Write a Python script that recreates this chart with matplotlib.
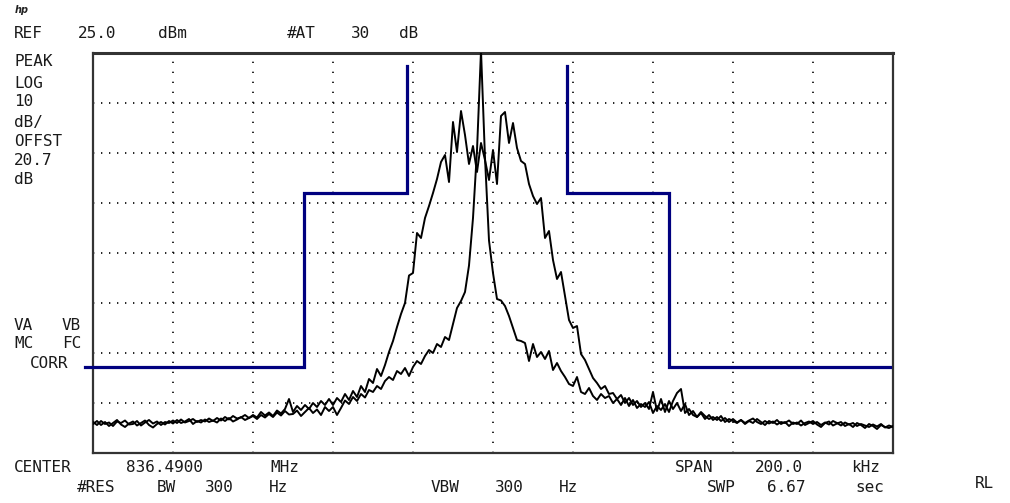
import numpy as np
import matplotlib
matplotlib.use("Agg")
import matplotlib.pyplot as plt

# frequency offset from center (kHz), 1 kHz steps across the 200 kHz span
freq_khz = np.arange(-100, 101, 1)

# wide (modulated) trace, dBm
wide_dbm = [
    -48.8, -49.4, -48.6, -49.2, -48.9, -49.6, -48.7, -49.0, -48.5, -49.3,
    -49.2, -48.6, -49.5, -48.9, -48.4, -49.1, -48.7, -49.4, -48.8, -49.0,
    -48.5, -49.0, -48.3, -48.9, -48.6, -48.2, -48.8, -48.4, -48.7, -48.1,
    -48.6, -48.0, -48.5, -47.8, -48.3, -47.6, -48.1, -47.9, -47.4, -48.0,
    -47.4, -47.9, -46.8, -47.5, -46.9, -47.6, -46.5, -47.1, -46.2, -44.2,
    -46.8, -45.6, -46.4, -45.4, -46.2, -45.0, -45.8, -44.6, -45.4, -44.2,
    -45.4, -44.0, -44.8, -43.2, -44.4, -42.6, -43.8, -41.6, -42.8, -40.2,
    -41.0, -38.2, -39.6, -37.4, -34.8, -32.6, -29.8, -27.2, -25.0, -19.5,
    -19.0, -11.0, -12.0, -8.0, -5.6, -3.0, -0.2, 3.2, 4.6, -0.8,
    11.2, 5.2, 13.4, 8.6, 2.8, 6.4, 1.2, 7.0, 3.6, -0.4,
    5.6, -1.2, 12.4, 13.2, 7.0, 11.0, 6.0, 3.4, 2.8, -1.2,
    -3.6, -5.2, -4.0, -12.0, -10.6, -16.4, -20.2, -18.8, -23.6, -28.4,
    -30.0, -29.6, -35.2, -36.4, -38.2, -40.0, -41.0, -42.2, -41.6, -43.2,
    -43.0, -44.2, -43.4, -45.0, -44.0, -45.4, -44.6, -45.8, -45.0, -46.2,
    -42.8, -46.6, -44.2, -46.8, -44.6, -46.2, -45.0, -46.6, -45.2, -47.4,
    -46.6, -47.8, -47.0, -48.2, -47.4, -48.4, -47.8, -48.6, -48.0, -48.8,
    -48.2, -48.9, -48.4, -49.0, -48.5, -48.1, -48.8, -49.2, -48.6, -49.1,
    -48.7, -49.3, -48.8, -49.0, -48.5, -49.2, -48.9, -49.5, -49.0, -48.7,
    -49.2, -48.8, -49.4, -48.9, -49.3, -48.6, -49.0, -49.5, -48.9, -49.3,
    -49.0, -49.6, -49.2, -49.5, -49.8, -49.3, -49.7, -49.2, -49.9, -49.5, -49.8,
]

# narrow (carrier) trace, dBm
narrow_dbm = [
    -49.2, -48.6, -49.4, -48.8, -49.6, -49.0, -48.4, -49.3, -49.8, -49.1,
    -48.7, -49.5, -49.0, -48.5, -49.4, -49.9, -49.2, -48.8, -49.3, -48.6,
    -49.1, -48.4, -49.0, -48.7, -48.2, -49.2, -48.6, -48.9, -48.3, -48.8,
    -48.5, -48.9, -48.1, -48.6, -48.0, -48.7, -48.3, -47.8, -48.4, -48.0,
    -47.6, -48.2, -47.4, -47.9, -47.2, -47.8, -46.9, -47.5, -46.6, -47.3,
    -47.2, -46.5, -47.6, -46.8, -46.0, -47.0, -46.3, -47.4, -45.8, -46.6,
    -45.8, -47.4, -46.0, -44.5, -45.2, -43.8, -44.6, -43.2, -43.9, -42.4,
    -42.8, -41.6, -42.2, -40.6, -39.8, -40.4, -38.6, -39.2, -38.0, -39.6,
    -37.8, -36.6, -37.2, -35.6, -34.4, -35.0, -33.2, -33.8, -31.8, -32.4,
    -29.2, -26.0, -24.6, -22.8, -17.5, -8.0, 5.5, 25.5, 4.0, -12.5,
    -19.0, -24.2, -24.5, -25.6, -27.6, -30.0, -32.4, -32.6, -33.0, -36.6,
    -33.2, -35.8, -34.8, -36.2, -34.6, -38.4, -37.0, -38.6, -39.8, -41.2,
    -41.6, -39.8, -42.8, -43.2, -42.0, -43.6, -44.4, -43.2, -44.0, -43.6,
    -45.0, -44.2, -45.4, -44.0, -45.6, -44.4, -46.0, -45.2, -45.8, -44.8,
    -47.0, -45.6, -46.4, -45.2, -46.8, -44.6, -43.0, -42.2, -47.0, -46.2,
    -47.4, -47.8, -46.8, -47.6, -48.2, -47.8, -48.4, -47.6, -48.8, -48.2,
    -48.6, -49.0, -48.4, -49.2, -48.6, -49.0, -48.2, -48.8, -49.4, -48.6,
    -49.0, -48.4, -49.2, -48.8, -49.6, -48.9, -49.2, -48.5, -49.4, -49.0,
    -48.6, -49.3, -49.8, -49.0, -48.7, -49.5, -49.1, -48.8, -49.6, -49.2,
    -49.8, -49.0, -49.4, -50.0, -49.2, -49.6, -50.2, -49.4, -49.8, -50.0, -49.6,
]

# spectrum emission mask (kHz, dBm)
mask_left_khz = [-102.0, -47.25, -47.25, -21.6, -21.6]
mask_left_dbm = [-37.8, -37.8, -3.0, -3.0, 22.4]
mask_right_khz = [18.6, 18.6, 44.1, 44.1, 99.2]
mask_right_dbm = [22.4, -3.0, -3.0, -37.8, -37.8]

W, H = 1010, 503
fig = plt.figure(figsize=(W / 100, H / 100), dpi=100)
fig.patch.set_facecolor("white")
ax = fig.add_axes([93 / W, 50 / H, 800 / W, 400 / H])
ax.set_xlim(-100, 100)
ax.set_ylim(-55, 25)
ax.set_xticks([])
ax.set_yticks([])
for s in ax.spines.values():
    s.set_linewidth(1.6)
    s.set_color("#333333")
ax.spines["top"].set_linewidth(2.2)

# dotted graticule
for y in range(-45, 25, 10):
    ax.axhline(y, color="black", lw=1.2, linestyle=(0, (0.8, 4.0)), zorder=1)
for x in range(-80, 100, 20):
    ax.axvline(x, color="black", lw=1.2, linestyle=(0, (0.8, 5.2)), zorder=1)

ax.plot(freq_khz, wide_dbm, color="black", lw=1.4, zorder=3)
ax.plot(freq_khz, narrow_dbm, color="black", lw=1.4, zorder=3)

ax.plot(mask_left_khz, mask_left_dbm, color="#00007f", lw=2.3, clip_on=False, zorder=4,
        solid_joinstyle="miter")
ax.plot(mask_right_khz, mask_right_dbm, color="#00007f", lw=2.3, clip_on=False, zorder=4,
        solid_joinstyle="miter")

mono = "DejaVu Sans Mono"


def put(word, x, y, size=11.5):
    fig.text(x / W, 1 - y / H, word, family=mono, fontsize=size, color="#1a1a1a",
             ha="left", va="center")


# header
fig.text(15 / W, 1 - 10 / H, "hp", family="DejaVu Sans", fontsize=7, style="italic",
         weight="bold", color="#222222", ha="left", va="center")
for word, x in [("REF", 14), ("25.0", 78), ("dBm", 158), ("#AT", 287), ("30", 351), ("dB", 399)]:
    put(word, x, 33)

# left annotations
for word, x, y in [("PEAK", 14, 62), ("LOG", 14, 83), ("10", 14, 102), ("dB/", 14, 122),
                   ("OFFST", 14, 141), ("20.7", 14, 160), ("dB", 14, 179),
                   ("VA", 14, 325), ("VB", 62, 325), ("MC", 14, 344), ("FC", 62, 344),
                   ("CORR", 30, 363)]:
    put(word, x, y)

# footer
for word, x, y in [("CENTER", 14, 467), ("836.4900", 126, 467), ("MHz", 270, 467),
                   ("SPAN", 675, 467), ("200.0", 755, 467), ("kHz", 851, 467),
                   ("#RES", 77, 488), ("BW", 157, 488), ("300", 205, 488), ("Hz", 269, 488),
                   ("VBW", 431, 488), ("300", 495, 488), ("Hz", 559, 488),
                   ("SWP", 707, 488), ("6.67", 767, 488), ("sec", 855, 488),
                   ("RL", 975, 484)]:
    put(word, x, y)

fig.savefig("out.png", dpi=100, facecolor="white")
